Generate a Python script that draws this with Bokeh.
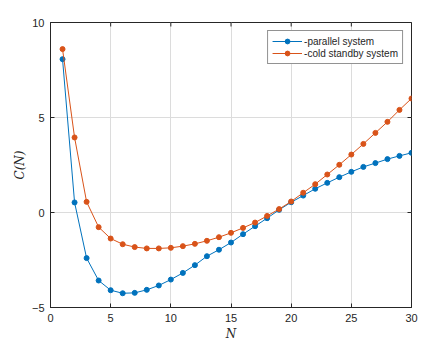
import math
from bokeh.plotting import figure
from bokeh.models import Range1d, FixedTicker
from bokeh.embed import file_html
from bokeh.resources import INLINE

N = list(range(1, 31))
parallel = [8.07, 0.53, -2.40, -3.58, -4.09, -4.25, -4.23, -4.07, -3.84, -3.53,
            -3.18, -2.77, -2.30, -1.96, -1.58, -1.14, -0.72, -0.30, 0.14, 0.54,
            0.89, 1.25, 1.56, 1.86, 2.14, 2.40, 2.60, 2.81, 2.98, 3.14]
cold_standby = [8.60, 3.95, 0.56, -0.77, -1.37, -1.67, -1.82, -1.89, -1.89, -1.86,
                -1.77, -1.65, -1.49, -1.30, -1.07, -0.81, -0.53, -0.18, 0.18, 0.58,
                1.04, 1.49, 2.00, 2.51, 3.05, 3.61, 4.19, 4.77, 5.40, 6.00]
x_ticks = [0, 5, 10, 15, 20, 25, 30]
y_ticks = [-5, 0, 5, 10]
x_min, x_max = 0, 30
y_min, y_max = -5, 10

BLUE = "#0072BD"
ORANGE = "#D95319"
AX = "#262626"
FONT = "Liberation Sans"

p = figure(width=431, height=344, output_backend="svg", toolbar_location=None,
           x_range=Range1d(x_min, x_max), y_range=Range1d(y_min, y_max),
           min_border_left=50, min_border_right=20, min_border_top=22, min_border_bottom=37)
p.outline_line_color = AX
p.outline_line_width = 1

for ax in (p.xaxis[0], p.yaxis[0]):
    ax.major_tick_in = 4
    ax.major_tick_out = 0
    ax.minor_tick_in = 0
    ax.minor_tick_out = 0
    ax.axis_line_color = AX
    ax.major_tick_line_color = AX
    ax.major_label_text_color = AX
    ax.major_label_text_font = FONT
    ax.major_label_text_font_size = "11px"
    ax.axis_label_text_font = "DejaVu Serif"
    ax.axis_label_text_font_style = "italic"
    ax.axis_label_text_font_size = "12px"
    ax.axis_label_text_color = AX

p.xaxis[0].ticker = FixedTicker(ticks=x_ticks)
p.yaxis[0].ticker = FixedTicker(ticks=y_ticks)
p.xaxis[0].major_label_standoff = 6
p.yaxis[0].major_label_standoff = 6
p.xaxis[0].axis_label = "N"
p.yaxis[0].axis_label = "C(N)"
p.xaxis[0].axis_label_standoff = 2
p.yaxis[0].axis_label_standoff = 2

p.xgrid.ticker = FixedTicker(ticks=x_ticks)
p.ygrid.ticker = FixedTicker(ticks=y_ticks)
p.xgrid.grid_line_color = "#dcdcdc"
p.ygrid.grid_line_color = "#dcdcdc"

# inward tick marks on the top and right edges of the box (clipped to the frame)
p.scatter(x_ticks, [y_max] * len(x_ticks), marker="dash", size=8, angle=math.pi / 2,
          line_color=AX, line_width=1)
p.scatter([x_max] * len(y_ticks), y_ticks, marker="dash", size=8,
          line_color=AX, line_width=1)

p.line(N, parallel, color=BLUE, line_width=1, legend_label="-parallel system")
p.scatter(N, parallel, color=BLUE, size=5, legend_label="-parallel system")
p.line(N, cold_standby, color=ORANGE, line_width=1, legend_label="-cold standby system")
p.scatter(N, cold_standby, color=ORANGE, size=5, legend_label="-cold standby system")

lg = p.legend[0]
lg.location = "top_right"
lg.margin = 8
lg.padding = 4
lg.spacing = 0
lg.label_text_font = FONT
lg.label_text_font_size = "10px"
lg.label_text_color = AX
lg.label_height = 12
lg.glyph_height = 12
lg.glyph_width = 30
lg.label_standoff = 2
lg.border_line_color = AX
lg.border_line_width = 1
lg.background_fill_alpha = 1

open("out.html", "w").write(file_html(p, INLINE))
